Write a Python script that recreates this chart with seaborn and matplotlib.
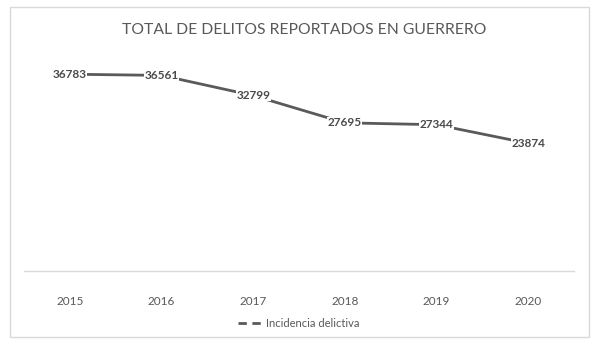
import pandas as pd
import matplotlib.pyplot as plt
import seaborn as sns
from matplotlib.patches import Rectangle

years = ["2015", "2016", "2017", "2018", "2019", "2020"]
incidencia = [36783, 36561, 32799, 27695, 27344, 23874]

df = pd.DataFrame({"Año": years, "Incidencia delictiva": incidencia})

sns.set_style("white")
plt.rcParams['font.family'] = ['Lato', 'DejaVu Sans']

fig = plt.figure(figsize=(6.09, 3.51), dpi=100)
ax = fig.add_axes([24 / 609, 80 / 351, 550 / 609, 214 / 351])

sns.lineplot(data=df, x="Año", y="Incidencia delictiva", ax=ax, color="#5a5a5a",
             linewidth=2, label="Incidencia delictiva", sort=False)

# etiquetas de datos con fondo blanco, como en Excel
for i, v in enumerate(incidencia):
    ax.text(i, v, str(v), ha="center", va="center", fontsize=8.5,
            fontweight="bold", color="#4a4a4a",
            bbox=dict(facecolor="white", edgecolor="none", pad=0.3))

ax.set_xlim(-0.5, 5.5)
ax.set_ylim(0, 40000)
ax.set_yticks([])
ax.set_xlabel("")
ax.set_ylabel("")
for side in ["top", "left", "right"]:
    ax.spines[side].set_visible(False)
ax.spines["bottom"].set_color("#d9d9d9")
ax.spines["bottom"].set_linewidth(1)
ax.tick_params(axis="x", length=0, pad=18, labelsize=8.5, labelcolor="#595959")

leg = ax.legend(loc="center", bbox_to_anchor=(0.5, -0.245), frameon=False,
                fontsize=8, handlelength=2.2, handletextpad=0.3)
for t in leg.get_texts():
    t.set_color("#595959")
for h in leg.get_lines():
    h.set_linestyle((0, (3, 2)))

fig.text(0.5, 1 - 30 / 351, "TOTAL DE DELITOS REPORTADOS EN GUERRERO",
         ha="center", va="center", fontsize=11.3, color="#595959")

fig.patches.append(Rectangle((10 / 609, 14 / 351), 579 / 609, 330 / 351,
                             transform=fig.transFigure, fill=False,
                             edgecolor="#d9d9d9", linewidth=1))

fig.savefig("out.png", dpi=100)
